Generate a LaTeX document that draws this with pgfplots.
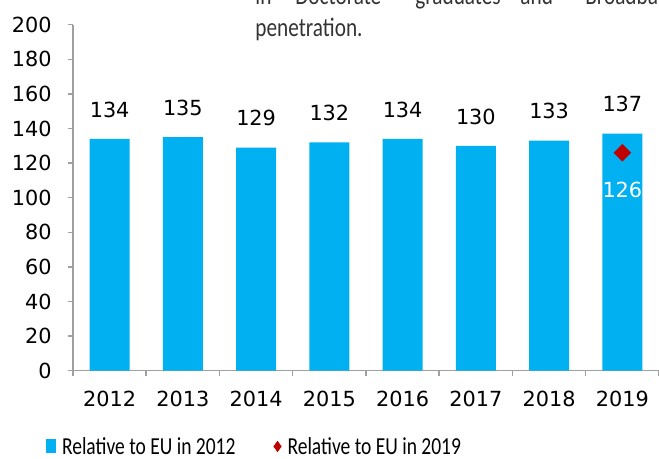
\documentclass[border=0pt]{standalone}
\usepackage{pgfplots}
\pgfplotsset{compat=1.18}
\usepackage{fontspec}
\setmainfont{DejaVu Sans}
\newfontfamily\legfont[FakeStretch=0.8]{Carlito}
\definecolor{barblue}{HTML}{00B0F0}
\definecolor{dred}{HTML}{C00000}
\definecolor{axgray}{HTML}{A0A0A0}
\begin{document}
\begin{tikzpicture}
\useasboundingbox (0,0) rectangle (329.5pt,229.5pt);
\begin{axis}[
  at={(36.5pt,44.15pt)}, anchor=south west,
  scale only axis, width=293pt, height=173pt,
  xmin=-0.5, xmax=7.5, ymin=0, ymax=200,
  axis lines=left,
  axis line style={-, axgray, line width=0.75pt},
  xtick={0,...,7},
  xticklabels={2012,2013,2014,2015,2016,2017,2018,2019},
  ytick={0,20,...,200},
  minor xtick={-0.5,0.5,...,7.5},
  tick align=outside,
  major tick length=2.5pt,
  minor tick length=2.5pt,
  major x tick style={draw=none},
  minor x tick style={axgray, line width=0.75pt},
  y tick style={axgray, line width=0.75pt},
  /pgf/number format/assume math mode=true,
  tick label style={font=\fontsize{10.4}{12}\selectfont, inner sep=0pt},
  yticklabel style={anchor=east, xshift=-8pt},
  xticklabel style={anchor=north, yshift=-7.5pt},
  clip=false,
  legend columns=2,
  legend style={at={(-0.046,-0.219)}, anchor=west, draw=none, fill=none,
    inner sep=0pt, outer sep=0pt,
    nodes={inner sep=0pt, text depth=0pt},
    font=\legfont\fontsize{12.2}{14}\selectfont,
    /tikz/every odd column/.append style={column sep=3pt},
    /tikz/every even column/.append style={column sep=19pt}},
]
\addplot[ybar, bar width=20pt, fill=barblue, draw=none,
  nodes near coords,
  every node near coord/.append style={anchor=south, inner sep=0pt, yshift=10.5pt,
    font=\fontsize{10.4}{12}\selectfont, text=black},
  legend image code/.code={\fill[barblue] (0pt,-3.5pt) rectangle (5pt,3.5pt);}]
  coordinates {(0,134) (1,135) (2,129) (3,132) (4,134) (5,130) (6,133) (7,137)};
\addlegendentry{Relative to EU in 2012}
\addplot[only marks, mark=square*, mark size=2.9pt,
  mark options={rotate=45, fill=dred, draw=dred},
  nodes near coords,
  every node near coord/.append style={anchor=north, inner sep=0pt, yshift=-14.5pt,
    font=\fontsize{10.4}{12}\selectfont, text=white},
  legend image code/.code={\fill[dred] (0pt,-2.5pt) -- (1.8pt,0pt) -- (0pt,2.5pt) -- (-1.8pt,0pt) -- cycle;}]
  coordinates {(7,126)};
\addlegendentry{Relative to EU in 2019}
\end{axis}
\begin{scope}[every node/.style={anchor=base west, inner sep=0pt, text=black!80,
    font=\legfont\fontsize{13.3}{16}\selectfont}]
\node at (127.5pt,227pt) {in};
\node at (147.5pt,227pt) {Doctorate};
\node at (207.5pt,227pt) {graduates};
\node at (260pt,227pt) {and};
\node at (292.5pt,227pt) {Broadband};
\node at (127.5pt,211.2pt) {penetration.};
\end{scope}
\end{tikzpicture}
\end{document}
